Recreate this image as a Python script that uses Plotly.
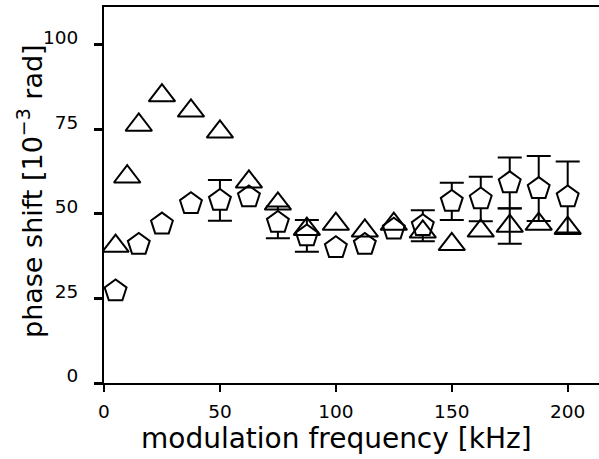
import plotly.graph_objects as go

# modulation frequency [kHz]
freq_tri = [5, 10, 15, 25, 37.5, 50, 62.5, 75, 87.5, 100, 112.5, 125, 137.5, 150, 162.5, 175, 187.5, 200]
phase_tri = [40.5, 61, 76.3, 85, 80.5, 74.3, 59.5, 53, 45.5, 47, 45, 47, 44.7, 41, 45, 46.4, 47, 45.8]
err_tri = [None, None, None, None, None, None, None, None, None, None, None, None, None, None, None, 5.2, None, None]

freq_pent = [5, 15, 25, 37.5, 50, 62.5, 75, 87.5, 100, 112.5, 125, 137.5, 150, 162.5, 175, 187.5, 200]
phase_pent = [27.2, 41, 47, 53, 54, 55, 47.5, 43.5, 40, 41, 45.5, 46.5, 53.7, 54.4, 59.2, 57.5, 55]
err_pent = [None, None, None, None, 6, None, 4.7, 4.7, None, None, None, 4.6, 5.5, 6.6, 7.5, 9.6, 10.5]

x_ticks = [0, 50, 100, 150, 200]
y_ticks = [0, 25, 50, 75, 100]

FONT = "DejaVu Sans"


def with_err(xs, ys, es):
    sel = [(x, y, e) for x, y, e in zip(xs, ys, es) if e is not None]
    return [s[0] for s in sel], [s[1] for s in sel], [s[2] for s in sel]


fig = go.Figure()

# pentagon series: error bars first, then white-filled markers on top
px_, py_, pe_ = with_err(freq_pent, phase_pent, err_pent)
fig.add_trace(go.Scatter(
    x=px_, y=py_, mode="markers", marker=dict(size=1, opacity=0),
    error_y=dict(type="data", array=pe_, visible=True,
                 color="black", thickness=2, width=12),
    showlegend=False, hoverinfo="skip",
))
fig.add_trace(go.Scatter(
    x=freq_pent, y=phase_pent, mode="markers",
    marker=dict(symbol="pentagon", size=23, color="white",
                line=dict(color="black", width=2)),
    showlegend=False,
))

# triangle series
tx_, ty_, te_ = with_err(freq_tri, phase_tri, err_tri)
fig.add_trace(go.Scatter(
    x=tx_, y=ty_, mode="markers", marker=dict(size=1, opacity=0),
    error_y=dict(type="data", array=te_, visible=True,
                 color="black", thickness=2, width=12),
    showlegend=False, hoverinfo="skip",
))
fig.add_trace(go.Scatter(
    x=freq_tri, y=phase_tri, mode="markers",
    marker=dict(symbol="triangle-up-open", size=23, color="black",
                line=dict(color="black", width=2)),
    showlegend=False,
))

fig.update_layout(
    width=599, height=459,
    margin=dict(l=104, r=0, t=7, b=76),
    paper_bgcolor="white", plot_bgcolor="white",
    font=dict(family=FONT, color="black", size=18.5),
    xaxis=dict(range=[0, 213.5], tickvals=x_ticks, ticks="outside", ticklen=7,
               tickwidth=2, tickcolor="black", showline=True, linewidth=2,
               linecolor="black", mirror=True, showgrid=False, zeroline=False,
               ticklabelstandoff=4,
               tickfont=dict(family=FONT, size=18.5, color="black")),
    yaxis=dict(range=[0, 111.2], tickvals=y_ticks, ticks="outside", ticklen=8,
               tickwidth=2.5, tickcolor="black", showline=True, linewidth=2,
               linecolor="black", mirror=False, showgrid=False, zeroline=False,
               ticklabelshift=-7, ticklabelstandoff=12,
               tickfont=dict(family=FONT, size=18.5, color="black")),
    annotations=[
        dict(text="modulation frequency [kHz]", xref="paper", yref="paper",
             x=0.47, y=-0.148, xanchor="center", yanchor="middle", showarrow=False,
             font=dict(family=FONT, size=28, color="black")),
        dict(text="phase shift [10<sup>\u22123</sup> rad]", xref="paper", yref="paper",
             x=-0.15, y=0.51, xanchor="center", yanchor="middle", showarrow=False,
             textangle=-90, font=dict(family=FONT, size=27, color="black")),
    ],
)

fig.write_html("out.html")
